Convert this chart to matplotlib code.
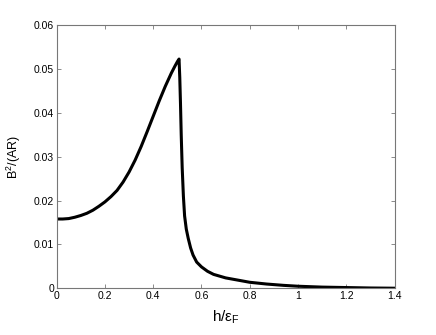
import matplotlib
matplotlib.use("Agg")
import matplotlib.pyplot as plt

# values
h = [0.0, 0.025, 0.05, 0.075, 0.10, 0.125, 0.15, 0.175, 0.20, 0.225,
     0.25, 0.275, 0.30, 0.325, 0.35, 0.375, 0.40, 0.425, 0.45, 0.475,
     0.49, 0.50, 0.507,
     0.510, 0.513, 0.516, 0.520, 0.525, 0.530, 0.537, 0.545, 0.555, 0.565,
     0.58, 0.60, 0.625, 0.65, 0.70, 0.75, 0.80, 0.87, 0.94, 1.0,
     1.1, 1.2, 1.3, 1.4]
b2 = [0.0158, 0.0158, 0.0159, 0.0162, 0.0166, 0.0171, 0.0178, 0.0187, 0.0197, 0.0209,
      0.0223, 0.0242, 0.0265, 0.0292, 0.0323, 0.0357, 0.0392, 0.0427, 0.0460, 0.0490,
      0.0506, 0.0516, 0.0522,
      0.0480, 0.0420, 0.0350, 0.0275, 0.0210, 0.0165, 0.0135, 0.0114, 0.0092, 0.0076,
      0.0060, 0.0049, 0.0039, 0.0032, 0.0024, 0.0019, 0.0014, 0.0010, 0.0007, 0.0005,
      0.0003, 0.0002, 0.0001, 0.00005]

xticks = [0, 0.2, 0.4, 0.6, 0.8, 1, 1.2, 1.4]
xticklabels = ["0", "0.2", "0.4", "0.6", "0.8", "1", "1.2", "1.4"]
yticks = [0, 0.01, 0.02, 0.03, 0.04, 0.05, 0.06]
yticklabels = ["0", "0.01", "0.02", "0.03", "0.04", "0.05", "0.06"]

plt.rcParams['font.family'] = ['Liberation Sans', 'DejaVu Sans']

fig = plt.figure(figsize=(4.36, 3.35), dpi=100)
ax = fig.add_axes([0.130, 0.139, 0.775, 0.787])
ax.plot(h, b2, color='black', linewidth=2.2, solid_joinstyle='round')

ax.set_xlim(0, 1.4)
ax.set_ylim(0, 0.06)
ax.set_xticks(xticks)
ax.set_xticklabels(xticklabels)
ax.set_yticks(yticks)
ax.set_yticklabels(yticklabels)
ax.tick_params(direction='in', top=True, right=True, length=3, width=0.6,
               color='#777777', labelsize=7.5, pad=2)
for s in ax.spines.values():
    s.set_color('#777777')
    s.set_linewidth(0.8)

ax.set_xlabel(r'h/$\mathregular{ε_F}$', fontsize=11, labelpad=5)
ax.set_ylabel(r'B$\mathregular{^2}$/(AR)', fontsize=9, labelpad=8)

fig.savefig('out.png', dpi=100)
